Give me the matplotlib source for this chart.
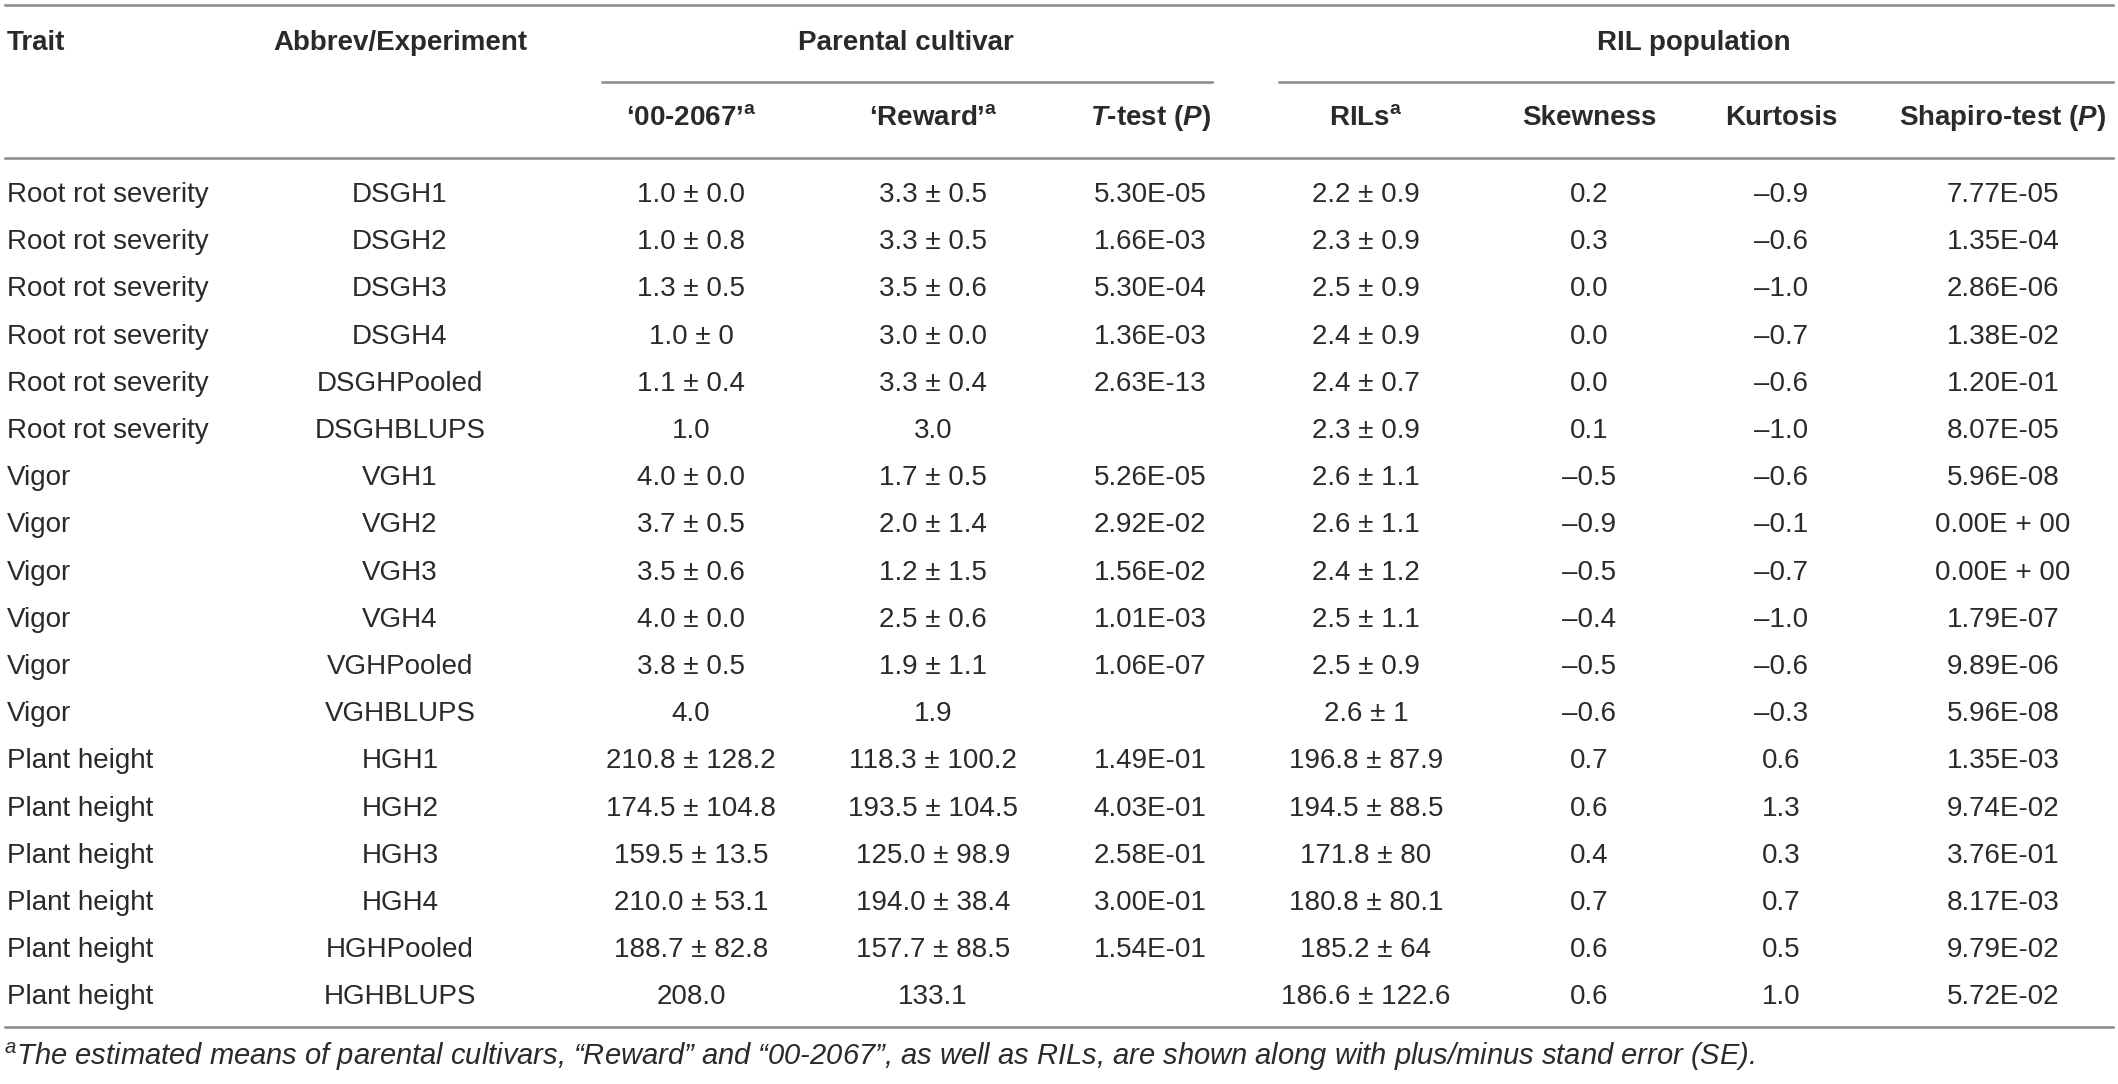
import matplotlib
matplotlib.use('Agg')
import matplotlib.pyplot as plt

plt.rcParams['font.family'] = ['Liberation Sans', 'DejaVu Sans']
plt.rcParams['mathtext.fontset'] = 'custom'
plt.rcParams['mathtext.rm'] = 'Liberation Sans'
plt.rcParams['mathtext.it'] = 'Liberation Sans:italic'
plt.rcParams['mathtext.bf'] = 'Liberation Sans:bold'
plt.rcParams['mathtext.bfit'] = 'Liberation Sans:italic:bold'

# table data
traits = ['Root rot severity'] * 6 + ['Vigor'] * 6 + ['Plant height'] * 6
abbrevs = ['DSGH1', 'DSGH2', 'DSGH3', 'DSGH4', 'DSGHPooled', 'DSGHBLUPS',
           'VGH1', 'VGH2', 'VGH3', 'VGH4', 'VGHPooled', 'VGHBLUPS',
           'HGH1', 'HGH2', 'HGH3', 'HGH4', 'HGHPooled', 'HGHBLUPS']
p00_2067 = ['1.0 ± 0.0', '1.0 ± 0.8', '1.3 ± 0.5', '1.0 ± 0', '1.1 ± 0.4', '1.0',
            '4.0 ± 0.0', '3.7 ± 0.5', '3.5 ± 0.6', '4.0 ± 0.0', '3.8 ± 0.5', '4.0',
            '210.8 ± 128.2', '174.5 ± 104.8', '159.5 ± 13.5', '210.0 ± 53.1',
            '188.7 ± 82.8', '208.0']
reward = ['3.3 ± 0.5', '3.3 ± 0.5', '3.5 ± 0.6', '3.0 ± 0.0', '3.3 ± 0.4', '3.0',
          '1.7 ± 0.5', '2.0 ± 1.4', '1.2 ± 1.5', '2.5 ± 0.6', '1.9 ± 1.1', '1.9',
          '118.3 ± 100.2', '193.5 ± 104.5', '125.0 ± 98.9', '194.0 ± 38.4',
          '157.7 ± 88.5', '133.1']
ttest = ['5.30E-05', '1.66E-03', '5.30E-04', '1.36E-03', '2.63E-13', '',
         '5.26E-05', '2.92E-02', '1.56E-02', '1.01E-03', '1.06E-07', '',
         '1.49E-01', '4.03E-01', '2.58E-01', '3.00E-01', '1.54E-01', '']
rils = ['2.2 ± 0.9', '2.3 ± 0.9', '2.5 ± 0.9', '2.4 ± 0.9', '2.4 ± 0.7', '2.3 ± 0.9',
        '2.6 ± 1.1', '2.6 ± 1.1', '2.4 ± 1.2', '2.5 ± 1.1', '2.5 ± 0.9', '2.6 ± 1',
        '196.8 ± 87.9', '194.5 ± 88.5', '171.8 ± 80', '180.8 ± 80.1',
        '185.2 ± 64', '186.6 ± 122.6']
skewness = ['0.2', '0.3', '0.0', '0.0', '0.0', '0.1',
            '–0.5', '–0.9', '–0.5', '–0.4', '–0.5', '–0.6',
            '0.7', '0.6', '0.4', '0.7', '0.6', '0.6']
kurtosis = ['–0.9', '–0.6', '–1.0', '–0.7', '–0.6', '–1.0',
            '–0.6', '–0.1', '–0.7', '–1.0', '–0.6', '–0.3',
            '0.6', '1.3', '0.3', '0.7', '0.5', '1.0']
shapiro = ['7.77E-05', '1.35E-04', '2.86E-06', '1.38E-02', '1.20E-01', '8.07E-05',
           '5.96E-08', '0.00E + 00', '0.00E + 00', '1.79E-07', '9.89E-06', '5.96E-08',
           '1.35E-03', '9.74E-02', '3.76E-01', '8.17E-03', '9.79E-02', '5.72E-02']

headers = ['Trait', 'Abbrev/Experiment', '‘00-2067’$^\\mathregular{a}$',
           '‘Reward’$^\\mathregular{a}$', '$\\mathbfit{T}$-test ($\\mathbfit{P}$)',
           'RILs$^\\mathregular{a}$', 'Skewness', 'Kurtosis',
           'Shapiro-test ($\\mathbfit{P}$)']
footnote = ('$^\\mathregular{a}$The estimated means of parental cultivars, '
            '“Reward” and “00-2067”, as well as RILs, are shown along with '
            'plus/minus stand error (SE).')

columns = [traits, abbrevs, p00_2067, reward, ttest, rils, skewness, kurtosis, shapiro]
col_x = [7, 400, 691, 933, 1150, 1366, 1589, 1781, 2003]

W, H = 2118, 1084
fig = plt.figure(figsize=(W / 100, H / 100), dpi=100)
ax = fig.add_axes([0, 0, 1, 1])
ax.set_xlim(0, W)
ax.set_ylim(H, 0)
ax.axis('off')

txt = '#2a2a2a'
line_c = '#8a8a8a'
fs = 20

# rules
ax.plot([5, 2113], [5, 5], color=line_c, lw=1.8)
ax.plot([602, 1212], [82, 82], color=line_c, lw=1.8)
ax.plot([1279, 2113], [82, 82], color=line_c, lw=1.8)
ax.plot([5, 2113], [158, 158], color=line_c, lw=1.8)
ax.plot([5, 2113], [1027, 1027], color=line_c, lw=1.8)

# group headers
ax.text(col_x[0], 43, headers[0], ha='left', va='center', fontsize=fs, fontweight='bold', color=txt)
ax.text(col_x[1], 43, headers[1], ha='center', va='center', fontsize=fs, fontweight='bold', color=txt)
ax.text(906, 43, 'Parental cultivar', ha='center', va='center', fontsize=fs, fontweight='bold', color=txt)
ax.text(1694, 43, 'RIL population', ha='center', va='center', fontsize=fs, fontweight='bold', color=txt)

# sub headers
for x, h in zip(col_x[2:], headers[2:]):
    ax.text(x, 118, h, ha='center', va='center', fontsize=fs, fontweight='bold', color=txt)

# body
row_y0, row_dy = 195, 47.2
for j, (x, col) in enumerate(zip(col_x, columns)):
    for i, val in enumerate(col):
        y = row_y0 + i * row_dy
        ax.text(x, y, val, ha='left' if j == 0 else 'center', va='center',
                fontsize=fs, color=txt)

ax.text(4, 1057, footnote, ha='left', va='center', fontsize=21, fontstyle='italic', color=txt)

fig.savefig('out.png', dpi=100)
